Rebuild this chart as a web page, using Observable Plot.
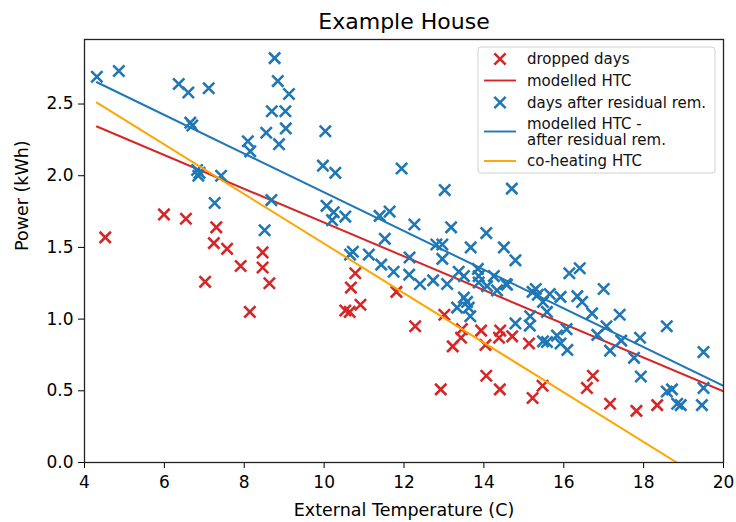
<!DOCTYPE html>
<html>
<head>
<meta charset="utf-8">
<script src="https://cdn.jsdelivr.net/npm/d3@7"></script>
<script src="https://cdn.jsdelivr.net/npm/@observablehq/plot@0.6"></script>
<style>
  html, body { margin: 0; padding: 0; background: #fff; }
  #chart { width: 736px; height: 522px; }
</style>
</head>
<body>
<div id="chart"></div>
<script>
// ---- data ----
const title = "Example House";
const xLabel = "External Temperature (C)";
const yLabel = "Power (kWh)";
const xTicks = [4, 6, 8, 10, 12, 14, 16, 18, 20];
const yTicks = [0, 0.5, 1.0, 1.5, 2.0, 2.5];

// dropped days (red)
const dropX = [4.52, 5.99, 6.54, 7.30, 7.24, 7.57, 7.91, 7.02, 8.46, 8.46, 8.63, 8.14,
  10.53, 10.64, 10.67, 10.78, 10.91, 11.81, 12.28, 13.01, 13.45, 13.43, 13.22, 13.93,
  14.04, 14.41, 14.38, 14.71, 15.13, 12.92, 14.06, 14.40, 15.22, 15.47, 16.58, 16.73,
  17.16, 17.82, 18.34];
const dropY = [1.57, 1.73, 1.70, 1.64, 1.53, 1.49, 1.37, 1.26, 1.465, 1.36, 1.25, 1.05,
  1.06, 1.05, 1.22, 1.32, 1.10, 1.19, 0.95, 1.03, 0.93, 0.87, 0.81, 0.92,
  0.82, 0.92, 0.87, 0.88, 0.83, 0.51, 0.605, 0.51, 0.45, 0.535, 0.52, 0.605,
  0.41, 0.36, 0.40];

// days after residual removal (blue)
const keptX = [4.31, 4.86, 6.36, 6.60, 7.11, 8.76, 8.84, 9.12, 8.69, 9.03, 9.04, 8.55,
  8.87, 6.65, 6.70, 8.09, 8.15, 6.82, 6.85, 6.88, 7.42, 7.26, 8.68, 8.51,
  10.03, 9.97, 10.28, 11.94, 13.02, 14.70, 10.06, 10.24, 10.20, 10.53, 11.39, 11.64,
  12.26, 11.52, 13.18, 14.06, 12.81, 12.96, 13.67, 14.50, 10.65, 10.72, 11.12, 11.43,
  11.74, 12.14, 12.13, 12.40, 12.73, 13.08, 12.96, 13.37, 13.50, 13.85, 13.87, 13.87,
  14.25, 14.08, 14.33, 14.55, 13.50, 13.33, 13.62, 13.66, 13.58, 14.79, 16.14, 16.40,
  17.00, 18.58, 19.50, 14.58, 15.22, 15.30, 15.35, 15.65, 15.92, 15.48, 16.34, 16.46,
  16.71, 15.58, 15.16, 17.40, 17.07, 16.84, 16.07, 14.79, 15.15, 15.83, 15.48, 15.58,
  15.92, 16.09, 17.16, 17.44, 17.91, 17.76, 17.93, 18.58, 18.71, 18.84, 18.93, 19.50,
  19.46];
const keptY = [2.69, 2.73, 2.64, 2.58, 2.61, 2.82, 2.66, 2.57, 2.45, 2.45, 2.33, 2.30,
  2.22, 2.37, 2.35, 2.24, 2.17, 2.04, 2.00, 2.02, 2.00, 1.81, 1.83, 1.62,
  2.31, 2.07, 2.02, 2.05, 1.90, 1.91, 1.79, 1.745, 1.69, 1.715, 1.72, 1.75,
  1.66, 1.56, 1.64, 1.60, 1.52, 1.52, 1.50, 1.50, 1.45, 1.47, 1.45, 1.38,
  1.33, 1.43, 1.31, 1.245, 1.27, 1.245, 1.42, 1.33, 1.30, 1.35, 1.30, 1.255,
  1.30, 1.23, 1.20, 1.245, 1.15, 1.08, 1.08, 1.02, 1.12, 1.41, 1.32, 1.355,
  1.21, 0.95, 0.77, 1.24, 1.19, 1.21, 1.17, 1.175, 1.155, 1.12, 1.16, 1.12,
  1.04, 1.05, 1.02, 1.03, 0.95, 0.89, 0.93, 0.97, 0.955, 0.885, 0.845, 0.84,
  0.83, 0.785, 0.78, 0.85, 0.87, 0.73, 0.60, 0.495, 0.51, 0.41, 0.40, 0.52,
  0.40];

// model lines (end points)
const fitX = [4.31, 20.0];
const htcY = [2.343, 0.496];          // modelled HTC
const htcResidY = [2.652, 0.535];     // modelled HTC - after residual rem.
const coheatX = [4.31, 18.83];
const coheatY = [2.51, 0.0];          // co-heating HTC

const legendItems = [
  {label: ["dropped days"], kind: "marker", color: "#d62728"},
  {label: ["modelled HTC"], kind: "line", color: "#d62728"},
  {label: ["days after residual rem."], kind: "marker", color: "#1f77b4"},
  {label: ["modelled HTC -", "after residual rem."], kind: "line", color: "#1f77b4"},
  {label: ["co-heating HTC"], kind: "line", color: "orange"}
];

// ---- build tables ----
const dropped = dropX.map((x, i) => ({x, y: dropY[i]}));
const kept = keptX.map((x, i) => ({x, y: keptY[i]}));
const htcLine = fitX.map((x, i) => ({x, y: htcY[i]}));
const htcResidLine = fitX.map((x, i) => ({x, y: htcResidY[i]}));
const coheatLine = coheatX.map((x, i) => ({x, y: coheatY[i]}));

const RED = "#d62728", BLUE = "#1f77b4", ORANGE = "orange";
const R = 5.2;
const SW = 2.6;

const plot = Plot.plot({
  width: 736,
  height: 522,
  marginTop: 39,
  marginLeft: 84,
  marginRight: 13,
  marginBottom: 60,
  style: {fontFamily: "DejaVu Sans, sans-serif", fontSize: "17px", color: "black", background: "white"},
  x: {domain: [4, 20], ticks: xTicks, tickSize: 6, tickPadding: 7, tickFormat: d => String(d), label: null},
  y: {domain: [0, 2.95], ticks: yTicks, tickSize: 6, tickPadding: 5, tickFormat: d3.format(".1f"), label: null},
  marks: [
    Plot.dot(dropped, {x: "x", y: "y", symbol: "times", r: R, stroke: RED, strokeWidth: SW, clip: true}),
    Plot.line(htcLine, {x: "x", y: "y", stroke: RED, strokeWidth: 2, clip: true}),
    Plot.dot(kept, {x: "x", y: "y", symbol: "times", r: R, stroke: BLUE, strokeWidth: SW, clip: true}),
    Plot.line(htcResidLine, {x: "x", y: "y", stroke: BLUE, strokeWidth: 2, clip: true}),
    Plot.line(coheatLine, {x: "x", y: "y", stroke: ORANGE, strokeWidth: 2, clip: true}),
    Plot.frame({stroke: "#222", strokeWidth: 1.3}),
    Plot.text([title], {frameAnchor: "top", dy: -26, text: d => d, fontSize: 22, fill: "black"}),
    Plot.text([xLabel], {frameAnchor: "bottom", dy: 53, text: d => d, fontSize: 17.5, fill: "black"}),
    Plot.text([yLabel], {frameAnchor: "left", dx: -62, rotate: -90, text: d => d, fontSize: 17.5, fill: "black"})
  ]
});

document.getElementById("chart").appendChild(plot);

// ---- legend (matplotlib-style box, upper right) ----
const svg = d3.select(plot);
const lg = svg.append("g").attr("font-family", "DejaVu Sans, sans-serif").attr("font-size", 15)
  .attr("text-anchor", "start");
const boxX = 478, boxY = 47, boxW = 237, boxH = 126;
lg.append("rect").attr("x", boxX).attr("y", boxY).attr("width", boxW).attr("height", boxH)
  .attr("rx", 3).attr("fill", "white").attr("fill-opacity", 0.8)
  .attr("stroke", "#d0d0d0").attr("stroke-width", 1);
const rowYs = [59, 80.5, 102.5, 131.5, 161];
const symPath = d3.symbol(d3.symbolTimes, R * R * Math.PI)();
legendItems.forEach((it, i) => {
  const cy = rowYs[i];
  if (it.kind === "marker") {
    lg.append("path").attr("d", symPath).attr("transform", `translate(500,${cy})`)
      .attr("fill", "none").attr("stroke", it.color).attr("stroke-width", SW);
  } else {
    lg.append("line").attr("x1", 484).attr("x2", 516).attr("y1", cy).attr("y2", cy)
      .attr("stroke", it.color).attr("stroke-width", 1.9);
  }
  const n = it.label.length;
  it.label.forEach((t, j) => {
    lg.append("text").attr("x", 527).attr("y", cy + (j - (n - 1) / 2) * 16.5)
      .attr("dy", "0.35em").attr("text-anchor", "start").attr("fill", "#111").text(t);
  });
});
</script>
</body>
</html>
